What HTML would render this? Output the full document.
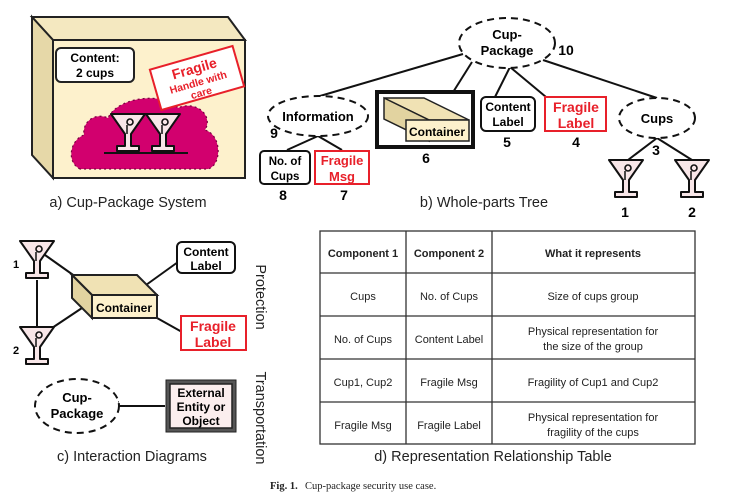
<!DOCTYPE html>
<html><head><meta charset="utf-8"><style>
body{margin:0;background:#fff;}
svg{display:block;font-family:"Liberation Sans",sans-serif;}
.b{font-weight:bold;}
</style></head><body>
<svg width="731" height="501" viewBox="0 0 731 501" xmlns="http://www.w3.org/2000/svg">
<defs>
<g id="gl">
<path d="M-17,0 L17,0 L3,20 L3,32 L11,32 L11,37 L-11,37 L-11,32 L-3,32 L-3,20 Z" fill="#f8e6e8" stroke="#111" stroke-width="2" stroke-linejoin="round"/>
<circle cx="2" cy="8" r="3" fill="none" stroke="#111" stroke-width="1.6"/>
<line x1="-1" y1="11" x2="-1" y2="20" stroke="#111" stroke-width="1.5"/>
</g>
</defs>

<!-- Panel a -->
<polygon points="32,17 228,17 245,40 53,40" fill="#f4e8c0" stroke="#222" stroke-width="2"/>
<polygon points="32,17 53,40 53,178 32,155" fill="#e6d8a8" stroke="#222" stroke-width="2"/>
<rect x="53" y="40" width="192" height="138" fill="#fdf1cc" stroke="#222" stroke-width="2"/>
<rect x="56" y="48" width="78" height="34" rx="5" fill="#fff" stroke="#222" stroke-width="2"/>
<text x="95" y="62" font-size="12" class="b" text-anchor="middle">Content:</text>
<text x="95" y="77" font-size="12" class="b" text-anchor="middle">2 cups</text>
<path d="M80,169 C66,162 70,140 84,135 C82,122 95,112 108,118 C118,96 165,92 178,108 C195,100 214,115 205,130 C222,135 222,165 208,169 Z" fill="#d2006e" stroke="#7a0040" stroke-width="1.2" stroke-dasharray="2,3"/>
<g transform="rotate(-16 197 78)">
<rect x="154" y="57" width="86" height="42" fill="#fff" stroke="#e8202a" stroke-width="2"/>
<text x="197" y="73" font-size="14" class="b" fill="#e8202a" text-anchor="middle">Fragile</text>
<text x="197" y="86" font-size="10.5" class="b" fill="#e8202a" text-anchor="middle">Handle with</text>
<text x="197" y="97" font-size="10.5" class="b" fill="#e8202a" text-anchor="middle">care</text>
</g>
<line x1="104" y1="153" x2="188" y2="153" stroke="#111" stroke-width="2"/>
<use href="#gl" transform="translate(128,114)"/>
<use href="#gl" transform="translate(163,114)"/>
<text x="128" y="207" font-size="14.5" text-anchor="middle" fill="#222">a) Cup-Package System</text>

<!-- Panel b -->
<g stroke="#111" stroke-width="2" fill="none">
<line x1="463" y1="54" x2="320" y2="96"/>
<line x1="472" y1="62" x2="450" y2="97"/>
<line x1="510" y1="67" x2="495" y2="97"/>
<line x1="510" y1="67" x2="546" y2="97"/>
<line x1="543" y1="60" x2="657" y2="98"/>
<line x1="318" y1="136" x2="287" y2="150"/>
<line x1="318" y1="136" x2="342" y2="150"/>
<line x1="657" y1="138" x2="628" y2="160"/>
<line x1="657" y1="138" x2="692" y2="160"/>
</g>
<ellipse cx="507" cy="43" rx="48" ry="25" fill="#fff" stroke="#111" stroke-width="2" stroke-dasharray="7,5"/>
<text x="507" y="39" font-size="13" class="b" text-anchor="middle">Cup-</text>
<text x="507" y="55" font-size="13" class="b" text-anchor="middle">Package</text>
<text x="566" y="55" font-size="14" class="b" text-anchor="middle">10</text>
<ellipse cx="318" cy="116" rx="50" ry="20" fill="#fff" stroke="#111" stroke-width="2" stroke-dasharray="7,5"/>
<text x="318" y="121" font-size="13" class="b" text-anchor="middle">Information</text>
<text x="274" y="138" font-size="14" class="b" text-anchor="middle">9</text>
<rect x="377" y="92" width="96" height="55" fill="#fff" stroke="#111" stroke-width="4"/>
<polygon points="384,98 424,98 469,120 429,120" fill="#f0e2b4" stroke="#222" stroke-width="1.5"/>
<polygon points="384,98 429,120 429,141 384,119" fill="#e2d3a0" stroke="#222" stroke-width="1.5"/>
<rect x="406" y="120" width="63" height="21" fill="#fdf1cc" stroke="#222" stroke-width="1.5"/>
<text x="437" y="136" font-size="12" class="b" text-anchor="middle">Container</text>
<text x="426" y="163" font-size="14" class="b" text-anchor="middle">6</text>
<rect x="481" y="97" width="54" height="34" rx="5" fill="#fff" stroke="#111" stroke-width="2"/>
<text x="508" y="111" font-size="12" class="b" text-anchor="middle">Content</text>
<text x="508" y="126" font-size="12" class="b" text-anchor="middle">Label</text>
<text x="507" y="147" font-size="14" class="b" text-anchor="middle">5</text>
<rect x="545" y="97" width="61" height="34" fill="#fff" stroke="#e8202a" stroke-width="2"/>
<text x="576" y="112" font-size="14" class="b" fill="#e8202a" text-anchor="middle">Fragile</text>
<text x="576" y="128" font-size="14" class="b" fill="#e8202a" text-anchor="middle">Label</text>
<text x="576" y="147" font-size="14" class="b" text-anchor="middle">4</text>
<ellipse cx="657" cy="118" rx="38" ry="20" fill="#fff" stroke="#111" stroke-width="2" stroke-dasharray="7,5"/>
<text x="657" y="123" font-size="13" class="b" text-anchor="middle">Cups</text>
<text x="656" y="155" font-size="14" class="b" text-anchor="middle">3</text>
<use href="#gl" transform="translate(626,160)"/>
<use href="#gl" transform="translate(692,160)"/>
<text x="625" y="217" font-size="14" class="b" text-anchor="middle">1</text>
<text x="692" y="217" font-size="14" class="b" text-anchor="middle">2</text>
<rect x="260" y="151" width="50" height="33" rx="4" fill="#fff" stroke="#111" stroke-width="2"/>
<text x="285" y="165" font-size="11.5" class="b" text-anchor="middle">No. of</text>
<text x="285" y="180" font-size="11.5" class="b" text-anchor="middle">Cups</text>
<text x="283" y="200" font-size="14" class="b" text-anchor="middle">8</text>
<rect x="315" y="151" width="54" height="33" fill="#fff" stroke="#e8202a" stroke-width="2"/>
<text x="342" y="165" font-size="13" class="b" fill="#e8202a" text-anchor="middle">Fragile</text>
<text x="342" y="181" font-size="13" class="b" fill="#e8202a" text-anchor="middle">Msg</text>
<text x="344" y="200" font-size="14" class="b" text-anchor="middle">7</text>
<text x="484" y="207" font-size="14.5" text-anchor="middle" fill="#222">b) Whole-parts Tree</text>

<!-- Panel c -->
<g stroke="#111" stroke-width="2">
<line x1="37" y1="280" x2="37" y2="327"/>
<line x1="45" y1="255" x2="76" y2="277"/>
<line x1="52" y1="328" x2="82" y2="308"/>
<line x1="146" y1="285" x2="178" y2="262"/>
<line x1="157" y1="318" x2="182" y2="332"/>
<line x1="118" y1="406" x2="165" y2="406"/>
<line x1="118" y1="401" x2="118" y2="410"/>
</g>
<use href="#gl" transform="translate(37,241)"/>
<use href="#gl" transform="translate(37,327)"/>
<text x="16" y="268" font-size="11" class="b" text-anchor="middle">1</text>
<text x="16" y="354" font-size="11" class="b" text-anchor="middle">2</text>
<polygon points="72,275 137,275 157,295 92,295" fill="#f0e2b4" stroke="#222" stroke-width="2"/>
<polygon points="72,275 92,295 92,318 72,298" fill="#e2d3a0" stroke="#222" stroke-width="2"/>
<rect x="92" y="295" width="65" height="23" fill="#fdf1cc" stroke="#222" stroke-width="2"/>
<text x="124" y="312" font-size="12" class="b" text-anchor="middle">Container</text>
<rect x="177" y="242" width="58" height="31" rx="5" fill="#fff" stroke="#111" stroke-width="2"/>
<text x="206" y="256" font-size="12" class="b" text-anchor="middle">Content</text>
<text x="206" y="270" font-size="12" class="b" text-anchor="middle">Label</text>
<rect x="181" y="316" width="65" height="34" fill="#fff" stroke="#e8202a" stroke-width="2"/>
<text x="213" y="331" font-size="14" class="b" fill="#e8202a" text-anchor="middle">Fragile</text>
<text x="213" y="347" font-size="14" class="b" fill="#e8202a" text-anchor="middle">Label</text>
<ellipse cx="77" cy="406" rx="42" ry="27" fill="#fff" stroke="#111" stroke-width="2" stroke-dasharray="7,5"/>
<text x="77" y="402" font-size="13" class="b" text-anchor="middle">Cup-</text>
<text x="77" y="418" font-size="13" class="b" text-anchor="middle">Package</text>
<rect x="166" y="380" width="70" height="52" fill="#555" stroke="#222" stroke-width="1"/>
<rect x="170" y="384" width="62" height="44" fill="#fbeeee" stroke="#222" stroke-width="1.5"/>
<text x="201" y="397" font-size="12" class="b" text-anchor="middle">External</text>
<text x="201" y="411" font-size="12" class="b" text-anchor="middle">Entity or</text>
<text x="201" y="425" font-size="12" class="b" text-anchor="middle">Object</text>
<text transform="translate(256,297) rotate(90)" font-size="14.5" text-anchor="middle" fill="#222">Protection</text>
<text transform="translate(256,418) rotate(90)" font-size="14.5" text-anchor="middle" fill="#222">Transportation</text>
<text x="132" y="461" font-size="14.5" text-anchor="middle" fill="#222">c) Interaction Diagrams</text>

<!-- Panel d table -->
<g stroke="#333" stroke-width="1.3" fill="none">
<rect x="320" y="231" width="375" height="213"/>
<line x1="406" y1="231" x2="406" y2="444"/>
<line x1="492" y1="231" x2="492" y2="444"/>
<line x1="320" y1="273" x2="695" y2="273"/>
<line x1="320" y1="316" x2="695" y2="316"/>
<line x1="320" y1="359" x2="695" y2="359"/>
<line x1="320" y1="402" x2="695" y2="402"/>
</g>
<g font-size="11" text-anchor="middle" fill="#222">
<text x="363" y="257" class="b">Component 1</text>
<text x="449" y="257" class="b">Component 2</text>
<text x="593" y="257" class="b">What it represents</text>
<text x="363" y="300">Cups</text>
<text x="449" y="300">No. of Cups</text>
<text x="593" y="300">Size of cups group</text>
<text x="363" y="343">No. of Cups</text>
<text x="449" y="343">Content Label</text>
<text x="593" y="335">Physical representation for</text>
<text x="593" y="350">the size of the group</text>
<text x="363" y="386">Cup1, Cup2</text>
<text x="449" y="386">Fragile Msg</text>
<text x="593" y="386">Fragility of Cup1 and Cup2</text>
<text x="363" y="429">Fragile Msg</text>
<text x="449" y="429">Fragile Label</text>
<text x="593" y="421">Physical representation for</text>
<text x="593" y="436">fragility of the cups</text>
</g>
<text x="493" y="461" font-size="14.5" text-anchor="middle" fill="#222">d) Representation Relationship Table</text>

<text x="270" y="489" font-size="10.5" font-family="Liberation Serif,serif" class="b" fill="#222">Fig. 1.</text>
<text x="305" y="489" font-size="10.5" font-family="Liberation Serif,serif" fill="#222">Cup-package security use case.</text>
</svg>
</body></html>
